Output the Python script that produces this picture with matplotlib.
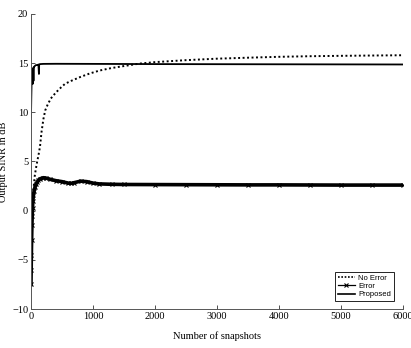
import matplotlib
matplotlib.use('Agg')
import numpy as np
import matplotlib.pyplot as plt
from matplotlib.lines import Line2D

plt.rcParams['font.family'] = ['Liberation Serif', 'DejaVu Serif']

# Data
snap_noerr = [0, 5, 10, 20, 30, 45, 60, 80, 100, 120, 145, 170, 200, 230, 270, 320,
              400, 480, 550, 650, 800, 950, 1110, 1300, 1500, 1750, 2000, 2500,
              3000, 3500, 4000, 4500, 5000, 5500, 6000]
noerr = [-7.0, -5.0, -3.0, -0.5, 1.0, 2.5, 3.5, 4.3, 5.0, 5.6, 6.5, 8.0, 9.3, 10.2,
         10.8, 11.4, 12.0, 12.5, 12.9, 13.2, 13.6, 13.95, 14.25, 14.5, 14.7, 14.95,
         15.1, 15.3, 15.45, 15.55, 15.64, 15.7, 15.74, 15.77, 15.8]

snap_err = [0, 3, 6, 10, 15, 20, 25, 30, 40, 50, 65, 80, 100, 120, 150, 200, 250,
            300, 400, 500, 600, 650, 700, 800, 900, 1000, 1100, 1300, 1500, 2000,
            2500, 3000, 3500, 4000, 4500, 5000, 5500, 6000]
err = [-7.5, -6.0, -4.5, -3.0, -1.5, -0.5, 0.3, 1.0, 1.6, 2.0, 2.4, 2.7, 2.9, 3.1,
       3.25, 3.35, 3.3, 3.2, 3.05, 2.95, 2.8, 2.78, 2.85, 3.0, 2.95, 2.8, 2.72,
       2.68, 2.66, 2.65, 2.64, 2.63, 2.62, 2.62, 2.61, 2.6, 2.6, 2.6]

snap_prop = [0, 5, 10, 15, 20, 25, 30, 35, 40, 45, 50, 60, 70, 80, 100, 120, 128,
             132, 136, 150, 200, 400, 1000, 2000, 3000, 4000, 5000, 6000]
prop = [9.5, 11.5, 13.0, 14.2, 13.0, 14.4, 12.9, 14.5, 13.2, 14.6, 14.6, 14.7,
        14.75, 14.8, 14.8, 14.85, 13.9, 14.85, 14.88, 14.9, 14.92, 14.93, 14.92,
        14.9, 14.89, 14.88, 14.87, 14.86]

fig = plt.figure(figsize=(4.11, 3.48), dpi=100)
ax = fig.add_axes([0.0754, 0.112, 0.905, 0.848])

ax.plot(snap_noerr, noerr, color='k', lw=1.4, ls=(0, (1, 1.3)))
ax.plot(snap_err, err, color='k', lw=2.6, marker='x', ms=2.5, mew=0.8)
ax.plot(snap_prop, prop, color='k', lw=1.3)

ax.set_xlim(0, 6000)
ax.set_ylim(-10, 20)
ax.set_xticks(np.arange(0, 6001, 1000))
ax.set_yticks(np.arange(-10, 21, 5))
ax.tick_params(direction='in', length=3, width=0.6, labelsize=7.5, colors='#333333',
               labelcolor='k', pad=2)
for s in ['top', 'right']:
    ax.spines[s].set_visible(False)
for s in ['left', 'bottom']:
    ax.spines[s].set_linewidth(0.7)
    ax.spines[s].set_color('#555555')

ax.set_xlabel('Number of snapshots', fontsize=7.5)
ax.set_ylabel('Output SINR in dB', fontsize=7.5)
ax.xaxis.set_label_coords(0.5, -0.075)
ax.yaxis.set_label_coords(-0.062, 0.5)

handles = [
    Line2D([], [], color='k', lw=1.2, ls=(0, (1, 1))),
    Line2D([], [], color='k', lw=0.9, marker='x', ms=3, mew=0.8),
    Line2D([], [], color='k', lw=1.2),
]
leg = ax.legend(handles, ['No Error', 'Error', 'Proposed'], loc='lower right',
                prop={'family': 'Liberation Sans', 'size': 5.5}, frameon=True,
                fancybox=False, edgecolor='k', framealpha=1, borderpad=0.3,
                handlelength=2.2, handletextpad=0.5, labelspacing=0.15,
                bbox_to_anchor=(0.985, 0.015))
leg.get_frame().set_linewidth(0.6)

fig.savefig('out.png', dpi=100)
